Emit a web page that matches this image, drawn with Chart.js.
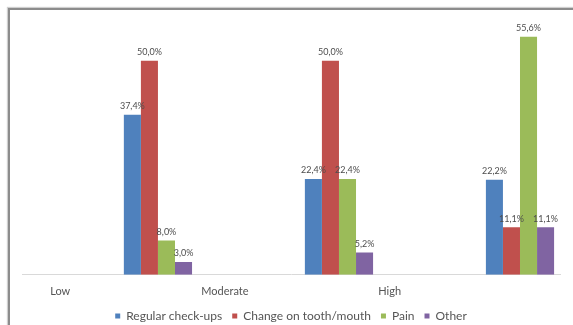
<!DOCTYPE html>
<html>
<head>
<meta charset="utf-8">
<script src="https://cdn.jsdelivr.net/npm/chart.js@4.4.1/dist/chart.umd.min.js"></script>
<style>
    html, body { margin: 0; padding: 0; background: #fff; overflow: hidden; }
    #wrap { position: relative; width: 573px; height: 325px; }
    #frame {
        position: absolute; left: 8px; top: 8px; width: 700px; height: 500px;
        border-left: 2px solid #8c8c8c; border-top: 2px solid #8c8c8c;
        box-shadow: -1px -1px 1px #cfcfcf;
    }
    canvas { position: absolute; left: 0; top: 0; }
</style>
</head>
<body>
<div id="wrap">
    <div id="frame"></div>
    <canvas id="chart" width="573" height="325"></canvas>
</div>
<script>
    // Chart data
    const categories = ['Low', 'Moderate', 'High'];
    const seriesNames = ['Regular check-ups', 'Change on tooth/mouth', 'Pain', 'Other'];
    const regularCheckups = [37.4, 22.4, 22.2];
    const changeToothMouth = [50.0, 50.0, 11.1];
    const pain = [8.0, 22.4, 55.6];
    const other = [3.0, 5.2, 11.1];
    const seriesColors = ['#4F81BD', '#C0504D', '#9BBB59', '#8064A2'];

    const allSeries = [regularCheckups, changeToothMouth, pain, other];
    const fontFamily = 'Lato, "Liberation Sans", sans-serif';

    function formatPct(v) {
        return v.toFixed(1).replace('.', ',') + '%';
    }

    // Value labels above each bar
    const valueLabels = {
        id: 'valueLabels',
        afterDatasetsDraw(chart) {
            const ctx = chart.ctx;
            ctx.save();
            ctx.font = '9px ' + fontFamily;
            ctx.fillStyle = '#4d4d4d';
            ctx.textAlign = 'center';
            ctx.textBaseline = 'bottom';
            chart.data.datasets.forEach((ds, i) => {
                chart.getDatasetMeta(i).data.forEach((bar, j) => {
                    ctx.fillText(formatPct(ds.data[j].y), bar.x, bar.y - 4);
                });
            });
            ctx.restore();
        }
    };

    const ctx = document.getElementById('chart').getContext('2d');
    new Chart(ctx, {
        type: 'bar',
        data: {
            datasets: allSeries.map((values, i) => ({
                label: seriesNames[i],
                data: values.map((v, j) => ({ x: j, y: v })),
                backgroundColor: seriesColors[i],
                borderWidth: 0
            }))
        },
        options: {
            responsive: false,
            animation: false,
            categoryPercentage: 0.414,
            barPercentage: 1,
            layout: {
                padding: { left: 22, right: 13, top: 18, bottom: -7 }
            },
            plugins: {
                legend: {
                    position: 'bottom',
                    labels: {
                        boxWidth: 5,
                        boxHeight: 5,
                        padding: 10,
                        color: '#555',
                        font: { family: fontFamily, size: 12 }
                    }
                },
                tooltip: { enabled: false }
            },
            scales: {
                x: {
                    type: 'linear',
                    min: -0.751,
                    max: 2.221,
                    offset: false,
                    grid: { display: false },
                    border: { display: true, color: '#d9d9d9' },
                    afterBuildTicks(scale) {
                        // category names sit left of their bar groups in the original
                        scale.ticks = categories.map((c, i) => ({ value: i * 0.91 - 0.54 }));
                    },
                    ticks: {
                        padding: 2,
                        color: '#555',
                        font: { family: fontFamily, size: 11 },
                        maxRotation: 0,
                        autoSkip: false,
                        callback: function(value, index) {
                            return categories[index];
                        }
                    }
                },
                y: {
                    display: false,
                    min: 0,
                    max: 60
                }
            }
        },
        plugins: [valueLabels]
    });
</script>
</body>
</html>
